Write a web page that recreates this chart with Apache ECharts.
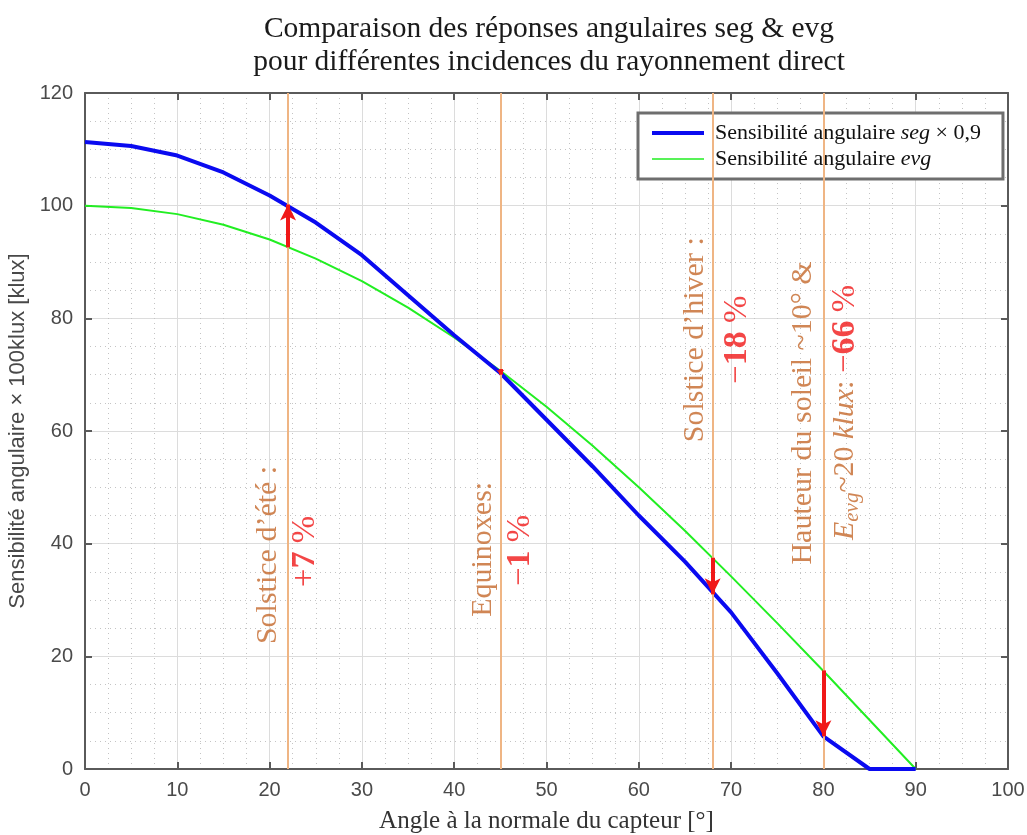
<!DOCTYPE html>
<html>
<head>
<meta charset="utf-8">
<script src="https://cdn.jsdelivr.net/npm/echarts@6/dist/echarts.min.js"></script>
<style>
  html, body { margin: 0; padding: 0; background: #fff; }
  #box { width: 1027px; height: 835px; }
</style>
</head>
<body>
<div id="box"></div>
<script>
// angles (deg)
const angles = [0, 5, 10, 15, 20, 25, 30, 35, 40, 45, 50, 55, 60, 65, 70, 75, 80, 85, 90];
// blue curve : seg x 0,9
const segValues = [111.3, 110.6, 108.9, 105.9, 101.8, 97.0, 91.2, 84.1, 77.0, 70.3, 62.0, 53.7, 45.0, 36.8, 27.8, 17.0, 5.8, 0, 0];
// green curve : evg
const evgValues = [100, 99.6, 98.5, 96.6, 94.0, 90.6, 86.6, 81.9, 76.6, 70.7, 64.3, 57.4, 50.0, 42.3, 34.2, 25.9, 17.4, 8.7, 0];
// vertical reference incidences
const incidences = [22, 45, 68, 80];
// red arrows : [angle, from (evg), to (seg)]
const arrows = [[22, 92.6, 100.2], [45, 71.0, 70.0], [68, 37.5, 31.0], [80, 17.5, 5.8]];
const xTicks = [0, 10, 20, 30, 40, 50, 60, 70, 80, 90, 100];
const yTicks = [0, 20, 40, 60, 80, 100, 120];

const serif = "'Liberation Serif', 'DejaVu Serif', serif";
const sans = "'Liberation Sans', Arial, sans-serif";
const orange = "#c4682a";
const red = "#f01818";

// rotated annotations [x, y, rich text]
const notes = [
  [19.8, 38, "{o|Solstice d\u2019\u00e9t\u00e9 :}"],
  [23.9, 38.6, "{r|+}{rb|7}{r| %}"],
  [43.1, 39, "{o|Equinoxes:}"],
  [47.2, 38.8, "{r|\u2212}{rb|1}{r| %}"],
  [66.1, 76.2, "{o|Solstice d\u2019hiver :}"],
  [70.7, 76.2, "{r|\u2212}{rb|18}{r| %}"],
  [77.8, 63.2, "{o|Hauteur du soleil ~10\u00b0 &}"],
  [82.4, 63.3, "{oi|E}{sub|evg}{o|~20 }{oi|klux}{o|: }{r|\u2212}{rb|66}{r| %}"]
];

let myChart = echarts.init(document.getElementById("box"));

const minorGrid = { show: true, lineStyle: { color: "#c4c4c4", type: [1, 4], width: 1 } };
const majorGrid = { show: true, lineStyle: { color: "#dcdcdc", width: 1 } };
const frameLine = { show: true, onZero: false, lineStyle: { color: "#5a5a5a", width: 2 } };
const frameTick = { show: true, inside: true, length: 7, lineStyle: { color: "#5a5a5a", width: 2 } };

let option = {
  animation: false,
  title: {
    text: "Comparaison des r\u00e9ponses angulaires seg & evg\npour diff\u00e9rentes incidences du rayonnement direct",
    left: 544,
    textAlign: "center",
    top: 8,
    textStyle: { fontFamily: serif, fontWeight: "normal", fontSize: 29.5, lineHeight: 33, color: "#1a1a1a" }
  },
  grid: { left: 85, right: 19, top: 93, bottom: 66, outerBoundsMode: "none", containLabel: false },
  legend: {
    left: 638,
    top: 113,
    orient: "vertical",
    backgroundColor: "#fff",
    borderColor: "#6e6e6e",
    borderWidth: 3,
    borderRadius: 0,
    padding: [9, 22, 9, 14],
    itemGap: 4,
    itemWidth: 52,
    itemHeight: 4,
    itemSymbolKeepAspect: false,
    data: [
      { name: "seg", icon: "rect" },
      { name: "evg", icon: "path://M0,0 H0.3 V0.1 H0 Z M0,1.2 H52 V2.8 H0 Z M51.7,3.9 H52 V4 H51.7 Z" }
    ],
    formatter: function (name) {
      return name === "seg"
        ? "{p|}{t|Sensibilit\u00e9 angulaire }{i|seg}{t| \u00d7 0,9}"
        : "{p|}{t|Sensibilit\u00e9 angulaire }{i|evg}";
    },
    textStyle: {
      fontFamily: serif,
      fontSize: 22,
      rich: {
        p: { width: 6 },
        t: { fontFamily: serif, fontSize: 22, color: "#111" },
        i: { fontFamily: serif, fontSize: 22, fontStyle: "italic", color: "#111" }
      }
    }
  },
  xAxis: [{
    type: "value",
    min: 0, max: 100, interval: 10,
    name: "Angle \u00e0 la normale du capteur [\u00b0]",
    nameLocation: "middle",
    nameGap: 40,
    nameTextStyle: { fontFamily: serif, fontSize: 25, color: "#333" },
    axisLine: frameLine,
    axisTick: frameTick,
    axisLabel: { fontFamily: sans, fontSize: 20, color: "#4a4a4a", margin: 11,
      formatter: v => xTicks.includes(v) ? String(v) : "" },
    splitLine: majorGrid,
    minorTick: { show: false, splitNumber: 4 },
    minorSplitLine: minorGrid
  }, {
    type: "value", position: "top",
    min: 0, max: 100, interval: 10,
    axisLine: frameLine,
    axisTick: frameTick,
    axisLabel: { show: false },
    splitLine: { show: false }
  }],
  yAxis: [{
    type: "value",
    min: 0, max: 120, interval: 20,
    name: "Sensibilit\u00e9 angulaire \u00d7 100klux [klux]",
    nameLocation: "middle",
    nameGap: 49,
    nameTextStyle: { fontFamily: sans, fontSize: 22, color: "#484848" },
    axisLine: frameLine,
    axisTick: frameTick,
    axisLabel: { fontFamily: sans, fontSize: 20, color: "#4a4a4a", margin: 12,
      formatter: v => yTicks.includes(v) ? String(v) : "" },
    splitLine: majorGrid,
    minorTick: { show: false, splitNumber: 4 },
    minorSplitLine: minorGrid
  }, {
    type: "value", position: "right",
    min: 0, max: 120, interval: 20,
    axisLine: frameLine,
    axisTick: frameTick,
    axisLabel: { show: false },
    splitLine: { show: false }
  }],
  series: [
    {
      name: "refs",
      type: "line",
      data: [],
      silent: true,
      markLine: {
        silent: true,
        symbol: "none",
        label: { show: false },
        lineStyle: { color: "#efb584", width: 2, type: "solid" },
        data: incidences.map(a => ({ xAxis: a }))
      }
    },
    {
      name: "evg",
      type: "line",
      data: angles.map((a, i) => [a, evgValues[i]]),
      symbol: "none",
      color: "#22ee22",
      lineStyle: { color: "#22ee22", width: 2 },
      z: 3
    },
    {
      name: "seg",
      type: "line",
      data: angles.map((a, i) => [a, segValues[i]]),
      symbol: "none",
      color: "#0a0af0",
      lineStyle: { color: "#0a0af0", width: 4 },
      z: 4
    },
    {
      name: "arrows",
      type: "line",
      data: [],
      z: 5,
      markLine: {
        silent: true,
        symbol: ["none", "arrow"],
        symbolSize: [12, 16],
        label: { show: false },
        lineStyle: { color: red, width: 4, type: "solid" },
        data: arrows.map(a => {
          const small = Math.abs(a[2] - a[1]) < 2;
          return [{ coord: [a[0], a[1]] },
                  { coord: [a[0], a[2]], symbolSize: small ? [6, 5] : [12, 16] }];
        })
      }
    },
    {
      name: "notes",
      type: "scatter",
      symbolSize: 0,
      silent: true,
      data: notes.map(n => ({ value: [n[0], n[1]], txt: n[2] })),
      label: {
        show: true,
        position: "inside",
        rotate: 90,
        fontFamily: serif,
        fontSize: 30,
        formatter: p => p.data.txt,
        rich: {
          o: { fontFamily: serif, fontSize: 30, color: orange },
          oi: { fontFamily: serif, fontSize: 30, color: orange, fontStyle: "italic" },
          sub: { fontFamily: serif, fontSize: 21, color: orange, fontStyle: "italic", padding: [13, 0, 0, 0] },
          r: { fontFamily: serif, fontSize: 33, color: red },
          rb: { fontFamily: serif, fontSize: 34, color: red, fontWeight: "bold" }
        }
      }
    }
  ]
};
myChart.setOption(option);
</script>
</body>
</html>
